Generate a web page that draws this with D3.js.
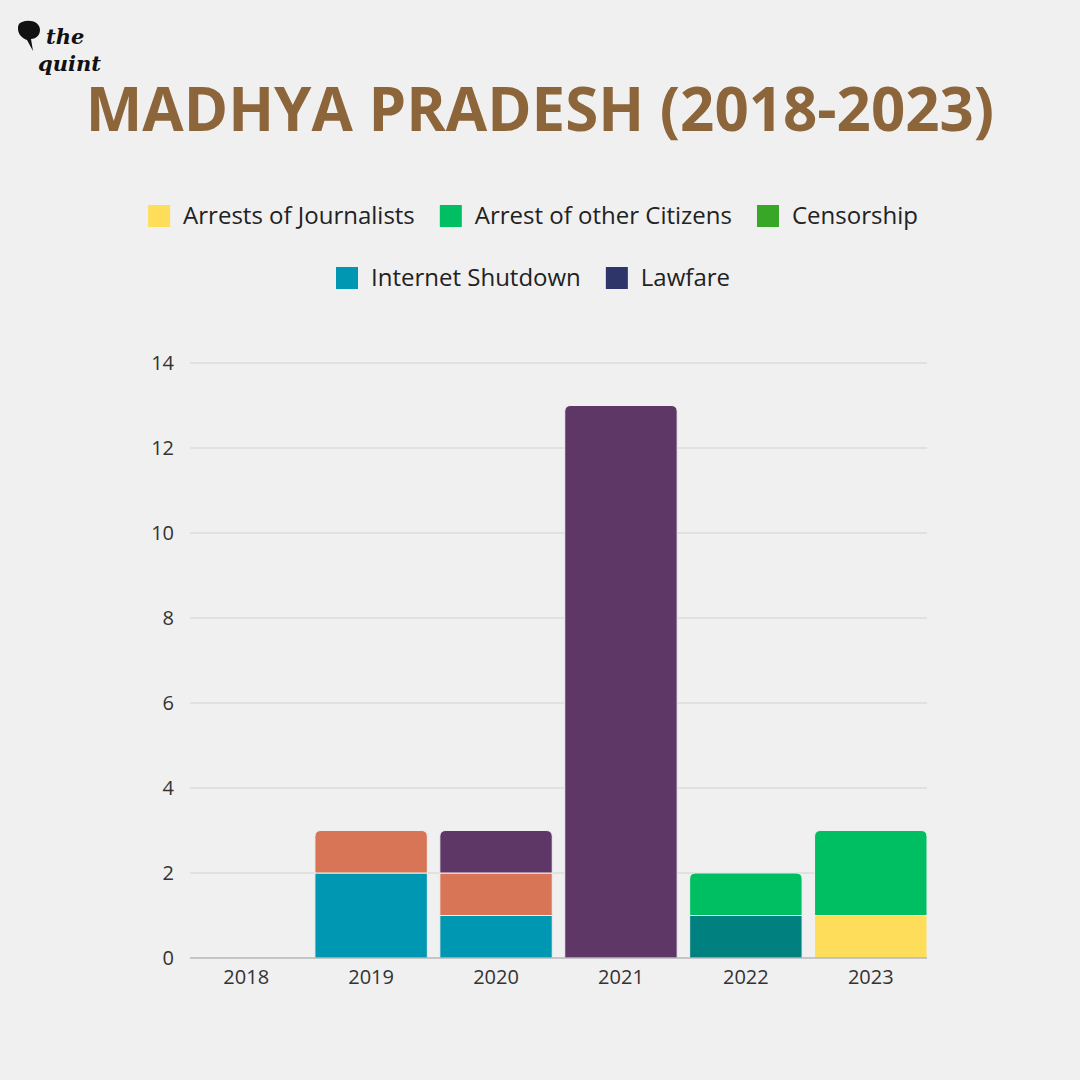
<!DOCTYPE html>
<html>
<head>
<meta charset="utf-8">
<script src="https://cdn.jsdelivr.net/npm/d3@7"></script>
<style>
  html, body { margin: 0; padding: 0; background: #f0f0f0; }
  svg { display: block; font-family: "Open Sans", "Noto Sans", sans-serif; }
</style>
</head>
<body>
<div class="chart"></div>
<script>
// data
const years = ['2018', '2019', '2020', '2021', '2022', '2023']
const journalists = [0, 0, 0, 0, 0, 1]
const censorship = [0, 0, 0, 0, 1, 0]
const shutdown = [0, 2, 1, 0, 0, 0]
const other = [0, 1, 1, 0, 0, 0]
const citizens = [0, 0, 0, 0, 1, 2]
const lawfare = [0, 0, 1, 13, 0, 0]
const yTicks = [0, 2, 4, 6, 8, 10, 12, 14]

const legendRows = [
  [['Arrests of Journalists', '#fedd5a'], ['Arrest of other Citizens', '#00bf63'], ['Censorship', '#38a626']],
  [['Internet Shutdown', '#0097b2'], ['Lawfare', '#2e3568']]
]

// stacking order, bottom to top
const series = [
  { key: 'journalists', values: journalists, color: '#fedd5a' },
  { key: 'censorship', values: censorship, color: '#00807f' },
  { key: 'shutdown', values: shutdown, color: '#0097b2' },
  { key: 'other', values: other, color: '#d77556' },
  { key: 'citizens', values: citizens, color: '#00bf63' },
  { key: 'lawfare', values: lawfare, color: '#5e3766' }
]

const width = 1080
const height = 1080

const svg = d3.select('.chart')
  .append('svg')
  .attr('width', width)
  .attr('height', height)

svg.append('rect')
  .attr('width', width)
  .attr('height', height)
  .attr('fill', '#f0f0f0')

// logo
const logo = svg.append('g').attr('transform', 'translate(18,20)')
logo.append('path')
  .attr('d', 'M4,2 C12,-1 22,2 22,10 C22,16 17,19 13,19 L15,31 L9,20 C4,18 0,14 0,9 C0,5 1,3 4,2 Z')
  .attr('fill', '#111')
logo.append('text')
  .attr('x', 28).attr('y', 24)
  .attr('font-family', 'DejaVu Serif, serif')
  .attr('font-style', 'italic')
  .attr('font-weight', 'bold')
  .attr('font-size', 21)
  .attr('fill', '#111')
  .text('the')
logo.append('text')
  .attr('x', 20).attr('y', 51)
  .attr('font-family', 'DejaVu Serif, serif')
  .attr('font-style', 'italic')
  .attr('font-weight', 'bold')
  .attr('font-size', 21)
  .attr('fill', '#111')
  .text('quint')

// title
svg.append('text')
  .attr('x', 540)
  .attr('y', 131)
  .attr('text-anchor', 'middle')
  .attr('font-size', 60)
  .attr('font-weight', 'bold')
  .attr('fill', '#8d653a')
  .text('MADHYA PRADESH (2018-2023)')

// legend rows, centred
const legendY = [216, 278]
legendRows.forEach((row, r) => {
  const g = svg.append('g')
  let x = 0
  row.forEach(([label, color]) => {
    g.append('rect')
      .attr('x', x).attr('y', legendY[r] - 11)
      .attr('width', 22).attr('height', 22)
      .attr('fill', color)
    const t = g.append('text')
      .attr('x', x + 35).attr('y', legendY[r] + 8)
      .attr('font-size', 24)
      .attr('fill', '#222')
      .text(label)
    x += 35 + t.node().getComputedTextLength() + 25
  })
  const w = x - 25
  g.attr('transform', `translate(${533 - w / 2},0)`)
})

// scales
const x = d3.scaleBand()
  .domain(years)
  .range([190, 927])
  .paddingInner(0.1)
  .paddingOuter(0)

const y = d3.scaleLinear()
  .domain([0, 14])
  .range([958, 363])

// grid
svg.append('g')
  .selectAll('line')
  .data(yTicks.filter(d => d > 0))
  .join('line')
  .attr('x1', 190).attr('x2', 927)
  .attr('y1', d => y(d)).attr('y2', d => y(d))
  .attr('stroke', '#d2d2d2')
  .attr('stroke-width', 1.2)

// y axis labels
svg.append('g')
  .attr('class', 'axis axis--y')
  .attr('transform', 'translate(190,0)')
  .call(d3.axisLeft(y).tickValues(yTicks).tickSize(0).tickPadding(16))
  .call(g => g.select('.domain').remove())
  .selectAll('text')
  .attr('font-family', '"Open Sans", sans-serif')
  .attr('font-size', 20)
  .attr('fill', '#333')

// stacked bars
const table = years.map((yr, i) => {
  const row = { year: yr }
  series.forEach(s => { row[s.key] = s.values[i] })
  return row
})
const stacked = d3.stack().keys(series.map(s => s.key))(table)

// top segment per year gets rounded corners
const topKey = years.map((yr, i) => {
  let k = null
  series.forEach(s => { if (s.values[i] > 0) k = s.key })
  return k
})

const r = 6
function segPath(d, i, key) {
  const x0 = x(d.data.year)
  const x1 = x0 + x.bandwidth()
  const yTop = y(d[1])
  const yBot = y(d[0])
  if (topKey[i] !== key) {
    return `M${x0},${yBot}V${yTop}H${x1}V${yBot}Z`
  }
  return `M${x0},${yBot}V${yTop + r}Q${x0},${yTop} ${x0 + r},${yTop}H${x1 - r}Q${x1},${yTop} ${x1},${yTop + r}V${yBot}Z`
}

stacked.forEach((layer, li) => {
  const s = series[li]
  svg.append('g')
    .selectAll('path')
    .data(layer)
    .join('path')
    .filter(d => d[1] - d[0] > 0)
    .attr('d', d => segPath(d, years.indexOf(d.data.year), s.key))
    .attr('fill', s.color)
    .attr('stroke', '#f0f0f0')
    .attr('stroke-width', 1)
})

// baseline
svg.append('line')
  .attr('x1', 190).attr('x2', 927)
  .attr('y1', y(0)).attr('y2', y(0))
  .attr('stroke', '#999')
  .attr('stroke-width', 1.2)

// x axis labels
svg.append('g')
  .attr('class', 'axis axis--x')
  .attr('transform', `translate(0,${y(0)})`)
  .call(d3.axisBottom(x).tickSize(0).tickPadding(12))
  .call(g => g.select('.domain').remove())
  .selectAll('text')
  .attr('font-family', '"Open Sans", sans-serif')
  .attr('font-size', 20)
  .attr('fill', '#333')
</script>
</body>
</html>
